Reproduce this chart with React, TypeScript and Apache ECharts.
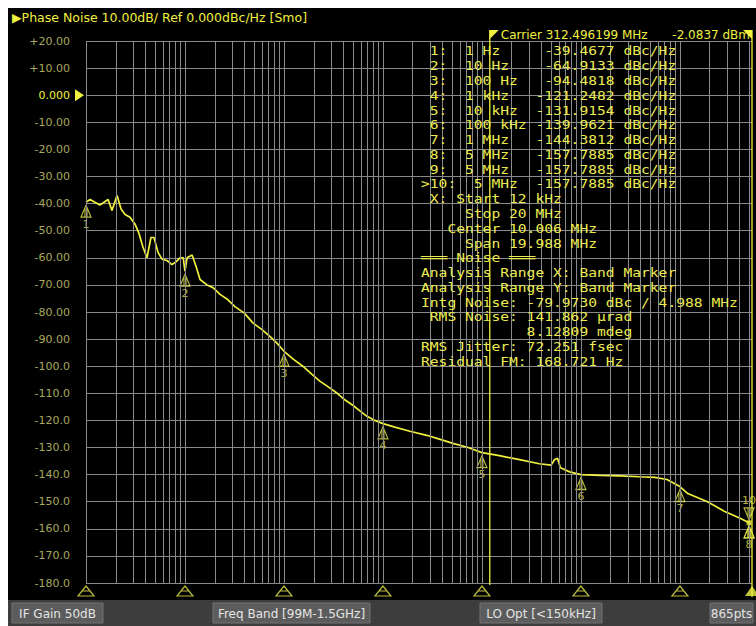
import React, { useEffect, useRef } from "react";
import * as echarts from "echarts";

// ---------- data ----------
const traceFreq = [
  1, 1.1, 1.23, 1.38, 1.52, 1.67, 1.83, 2.06, 2.26, 2.48, 2.78, 3.12, 3.43, 3.76, 4.13, 4.53, 4.86, 5.34, 5.86,
  6.57, 7.39, 8.1, 8.9, 9.6, 10, 10.5, 11.8, 12.9, 14.2, 16.7, 19.2, 22.6, 27.2, 32, 40, 48.5, 60, 72, 85, 100,
  125, 155, 192, 230, 290, 345, 415, 500, 585, 690, 830, 1000, 1320, 1870, 2770, 3780, 5100, 7260, 10000, 15000,
  24000, 38000, 50000, 54000, 58000, 62000, 77000, 100000, 156000, 250000, 390000, 560000, 740000, 1000000,
  1200000, 1900000, 2800000, 4000000, 5000000,
];
const traceDb = [
  -39.5, -38.5, -39.5, -40.5, -39.5, -38.5, -42.5, -37.0, -42, -44, -45, -47.5, -51, -56, -60, -52.5, -52.5, -58,
  -60.5, -61, -62.5, -61.5, -60, -60, -64.9, -60, -59, -63, -68, -70, -71, -73.5, -75.5, -78, -80.5, -84, -86.5,
  -89, -91.5, -94.5, -97.5, -100, -103, -105.5, -108, -110, -112.5, -114.5, -116.5, -118.5, -120, -121.2, -122.5,
  -124, -125.5, -127, -128.5, -130, -131.9, -133, -134.5, -136, -136.5, -134.5, -134, -137.5, -139, -140, -140.3,
  -140.5, -140.8, -141, -141.8, -144.4, -147, -150, -153.5, -156, -157.8,
];

const markerIds = ["1", "2", "3", "4", "5", "6", "7", "8", "9", "10"];
const markerFreq = [1, 10, 100, 1000, 10000, 100000, 1000000, 5000000, 5000000, 5000000];
const markerFreqText = ["1 Hz", "10 Hz", "100 Hz", "1 kHz", "10 kHz", "100 kHz", "1 MHz", "5 MHz", "5 MHz", "5 MHz"];
const markerDb = [-39.4677, -64.9133, -94.4818, -121.2482, -131.9154, -139.9621, -144.3812, -157.7885, -157.7885, -157.7885];

const noiseLines = [
  " X: Start 12 kHz",
  "     Stop 20 MHz",
  "   Center 10.006 MHz",
  "     Span 19.988 MHz",
  "═══ Noise ═══",
  "Analysis Range X: Band Marker",
  "Analysis Range Y: Band Marker",
  "Intg Noise: -79.9730 dBc / 4.988 MHz",
  " RMS Noise: 141.862 µrad",
  "            8.12809 mdeg",
  "RMS Jitter: 72.251 fsec",
  "Residual FM: 168.721 Hz",
];

const titleText = "▶Phase Noise 10.00dB/ Ref 0.000dBc/Hz [Smo]";
const carrierText = "Carrier 312.496199 MHz";
const carrierLevel = "-2.0837 dBm";
const bandStartFreq = 12000;
const statusLabels = ["IF Gain 50dB", "Freq Band [99M-1.5GHz]", "LO Opt [<150kHz]", "865pts"];

const X_MIN = 1;
const X_MAX = 5.35e6;
const Y_MIN = -180;
const Y_MAX = 20;

// ---------- styles ----------
const YEL = "#f0f040";
const TXT = "#ecec52";
const GRIDC = "#8a8a8a";
const MONO = "'DejaVu Sans Mono', 'Liberation Mono', monospace";
const SANS = "'DejaVu Sans', 'Noto Sans', sans-serif";

const markerPath = "path://M5,0 L10,12 L0,12 Z M4,3 L4,12 M6,3 L6,12";
const markerPathDown = "path://M0,0 L10,0 L5,12 Z M4,0 L4,9 M6,0 L6,9";
const axisMarkPath = "path://M8,0 L16,10 L0,10 Z M4,5 L12,5";

function yLabel(v: number): string {
  if (v === 0) return "{z|0.000}";
  if (v > 0) return "+" + v.toFixed(2);
  if (v > -100) return v.toFixed(2);
  return v.toFixed(1);
}

function tableRow(i: number): string {
  const val = markerDb[i].toFixed(4).padStart(9);
  if (i === 9) return ">10:  " + markerFreqText[i].padEnd(7) + val + " dBc/Hz";
  return " " + markerIds[i] + ":  " + markerFreqText[i].padEnd(8) + val + " dBc/Hz";
}

export default function App() {
  const ref = useRef<HTMLDivElement>(null);

  useEffect(() => {
    if (!ref.current) return;
    const chart = echarts.init(ref.current, undefined, { renderer: "svg" });

    const gridFreqs: number[] = [];
    for (let d = 0; d <= 6; d++) {
      for (let k = 1; k <= 9; k++) {
        const f = k * Math.pow(10, d);
        if (f <= X_MAX) gridFreqs.push(f);
      }
    }

    const markerData = markerFreq.slice(0, 9).map((f, i) => ({
      value: [f, markerDb[i]],
      name: markerIds[i],
      label: { show: i !== 8 },
    }));

    const axisMarks = markerFreq.slice(0, 7).map((f) => [f, Y_MIN]);

    chart.setOption({
      animation: false,
      backgroundColor: "#000",
      grid: { left: 78, right: 4, top: 33, bottom: 43, containLabel: false },
      xAxis: {
        type: "log",
        logBase: 10,
        min: X_MIN,
        max: X_MAX,
        axisLine: { show: false },
        axisTick: { show: false },
        axisLabel: { show: false },
        splitLine: { show: false },
      },
      yAxis: {
        type: "value",
        min: Y_MIN,
        max: Y_MAX,
        interval: 10,
        axisLine: { show: false },
        axisTick: { show: false },
        axisLabel: {
          formatter: yLabel,
          color: "#a8a85e",
          fontFamily: SANS,
          fontSize: 11,
          margin: 16,
          rich: { z: { color: YEL, fontFamily: SANS, fontSize: 11 } },
        },
        splitLine: { show: true, lineStyle: { color: GRIDC, width: 1 } },
      },
      series: [
        {
          type: "line",
          z: 1,
          data: [[X_MIN, Y_MIN]],
          showSymbol: false,
          lineStyle: { opacity: 0 },
          silent: true,
          markLine: {
            silent: true,
            symbol: ["none", "none"],
            label: { show: false },
            lineStyle: { color: GRIDC, width: 1, type: "solid" },
            data: gridFreqs.map((f) => ({ xAxis: f })),
          },
        },
        {
          type: "line",
          z: 3,
          data: traceFreq.map((f, i) => [f, traceDb[i]]),
          showSymbol: false,
          lineStyle: { color: YEL, width: 1.7 },
          silent: true,
        },
        {
          type: "scatter",
          z: 4,
          data: markerData,
          symbol: markerPath,
          symbolSize: [10, 12],
          symbolOffset: [0, 9],
          clip: false,
          itemStyle: { color: "rgba(0,0,0,0)", borderColor: "#e8e850", borderWidth: 1.2 },
          label: {
            show: true,
            position: "bottom",
            distance: 1,
            formatter: "{b}",
            color: "#e0e050",
            fontFamily: SANS,
            fontSize: 11,
          },
          silent: true,
        },
        {
          type: "scatter",
          z: 4,
          data: [{ value: [markerFreq[9], markerDb[9]], name: markerIds[9] }],
          symbol: markerPathDown,
          symbolSize: [10, 12],
          symbolOffset: [0, -9],
          clip: false,
          itemStyle: { color: "rgba(0,0,0,0)", borderColor: "#e8e850", borderWidth: 1.2 },
          label: {
            show: true,
            position: "top",
            distance: 1,
            formatter: "{b}",
            color: "#e0e050",
            fontFamily: SANS,
            fontSize: 11,
          },
          silent: true,
        },
        {
          type: "scatter",
          z: 5,
          data: [[markerFreq[9], markerDb[9]]],
          symbol: "rect",
          symbolSize: 5,
          clip: false,
          itemStyle: { color: YEL },
          silent: true,
        },
        {
          type: "scatter",
          z: 4,
          data: axisMarks,
          symbol: axisMarkPath,
          symbolSize: [16, 10],
          symbolOffset: [0, 8],
          clip: false,
          itemStyle: { color: "rgba(0,0,0,0)", borderColor: "#e8e850", borderWidth: 1.2 },
          silent: true,
        },
        {
          type: "scatter",
          z: 4,
          data: [[X_MAX, Y_MIN]],
          symbol: "triangle",
          symbolSize: [14, 10],
          symbolOffset: [0, 8],
          clip: false,
          itemStyle: { color: YEL },
          silent: true,
        },
      ],
    });

    const xb = chart.convertToPixel({ xAxisIndex: 0 }, bandStartFreq) as number;
    const xr = chart.convertToPixel({ xAxisIndex: 0 }, X_MAX) as number;
    const yBottom = chart.convertToPixel({ yAxisIndex: 0 }, Y_MIN) as number;
    const yRef = chart.convertToPixel({ yAxisIndex: 0 }, 0) as number;
    const leftX = chart.convertToPixel({ xAxisIndex: 0 }, X_MIN) as number;

    const graphics: any[] = [];
    graphics.push({
      type: "text",
      x: 4,
      y: 9,
      style: { text: titleText, fill: YEL, font: `12.5px ${SANS}`, verticalAlign: "middle" },
    });
    // reference level triangle
    graphics.push({
      type: "polygon",
      shape: { points: [[leftX - 11, yRef - 6], [leftX - 2, yRef], [leftX - 11, yRef + 6]] },
      style: { fill: YEL },
    });
    // band marker lines
    graphics.push({
      type: "line",
      shape: { x1: xb, y1: 22, x2: xb, y2: yBottom + 2 },
      style: { stroke: YEL, lineWidth: 1.3 },
      z: 10,
    });
    graphics.push({
      type: "line",
      shape: { x1: xr, y1: 22, x2: xr, y2: yBottom + 14 },
      style: { stroke: YEL, lineWidth: 1.3 },
      z: 10,
    });
    graphics.push({
      type: "polygon",
      shape: { points: [[xb, 22], [xb + 9, 22], [xb, 31]] },
      style: { fill: YEL },
      z: 11,
    });
    graphics.push({
      type: "text",
      x: xb + 11,
      y: 27,
      style: { text: carrierText, fill: YEL, font: `12px ${SANS}`, verticalAlign: "middle" },
      z: 11,
    });
    graphics.push({
      type: "text",
      x: xr - 2,
      y: 27,
      style: { text: carrierLevel, fill: YEL, font: `12px ${SANS}`, verticalAlign: "middle", align: "right" },
      z: 11,
    });
    graphics.push({
      type: "polygon",
      shape: { points: [[xr, 22], [xr - 9, 22], [xr, 31]] },
      style: { fill: YEL },
      z: 12,
    });

    // marker table + noise readout
    const rows: string[] = [];
    for (let i = 0; i < 10; i++) rows.push(tableRow(i));
    noiseLines.forEach((l) => rows.push(l));
    rows.forEach((t, k) => {
      graphics.push({
        type: "text",
        x: 413,
        y: 42.7 + k * 14.78,
        scaleX: 1.125,
        style: { text: t, fill: TXT, font: `13px ${MONO}`, verticalAlign: "middle" },
        z: 9,
      });
    });

    // status bar
    graphics.push({
      type: "rect",
      shape: { x: 0, y: 592, width: 748, height: 26 },
      style: { fill: "#3d3d3d" },
      z: 20,
    });
    const boxes = [
      [4, 91],
      [205, 157],
      [472, 122],
      [702, 43],
    ];
    boxes.forEach((b, i) => {
      graphics.push({
        type: "rect",
        shape: { x: b[0], y: 595, width: b[1], height: 20 },
        style: { fill: "#5c5c5c", stroke: "#727272", lineWidth: 1 },
        z: 21,
      });
      graphics.push({
        type: "text",
        x: b[0] + b[1] / 2,
        y: 605.5,
        style: {
          text: statusLabels[i],
          fill: "#e4e4e4",
          font: `12px ${SANS}`,
          align: "center",
          verticalAlign: "middle",
        },
        z: 22,
      });
    });

    chart.setOption({ graphic: graphics });

    return () => chart.dispose();
  }, []);

  return (
    <div style={{ position: "absolute", left: 0, top: 0, width: 756, height: 626, background: "#fff" }}>
      <div ref={ref} style={{ position: "absolute", left: 8, top: 8, width: 748, height: 618 }} />
    </div>
  );
}
